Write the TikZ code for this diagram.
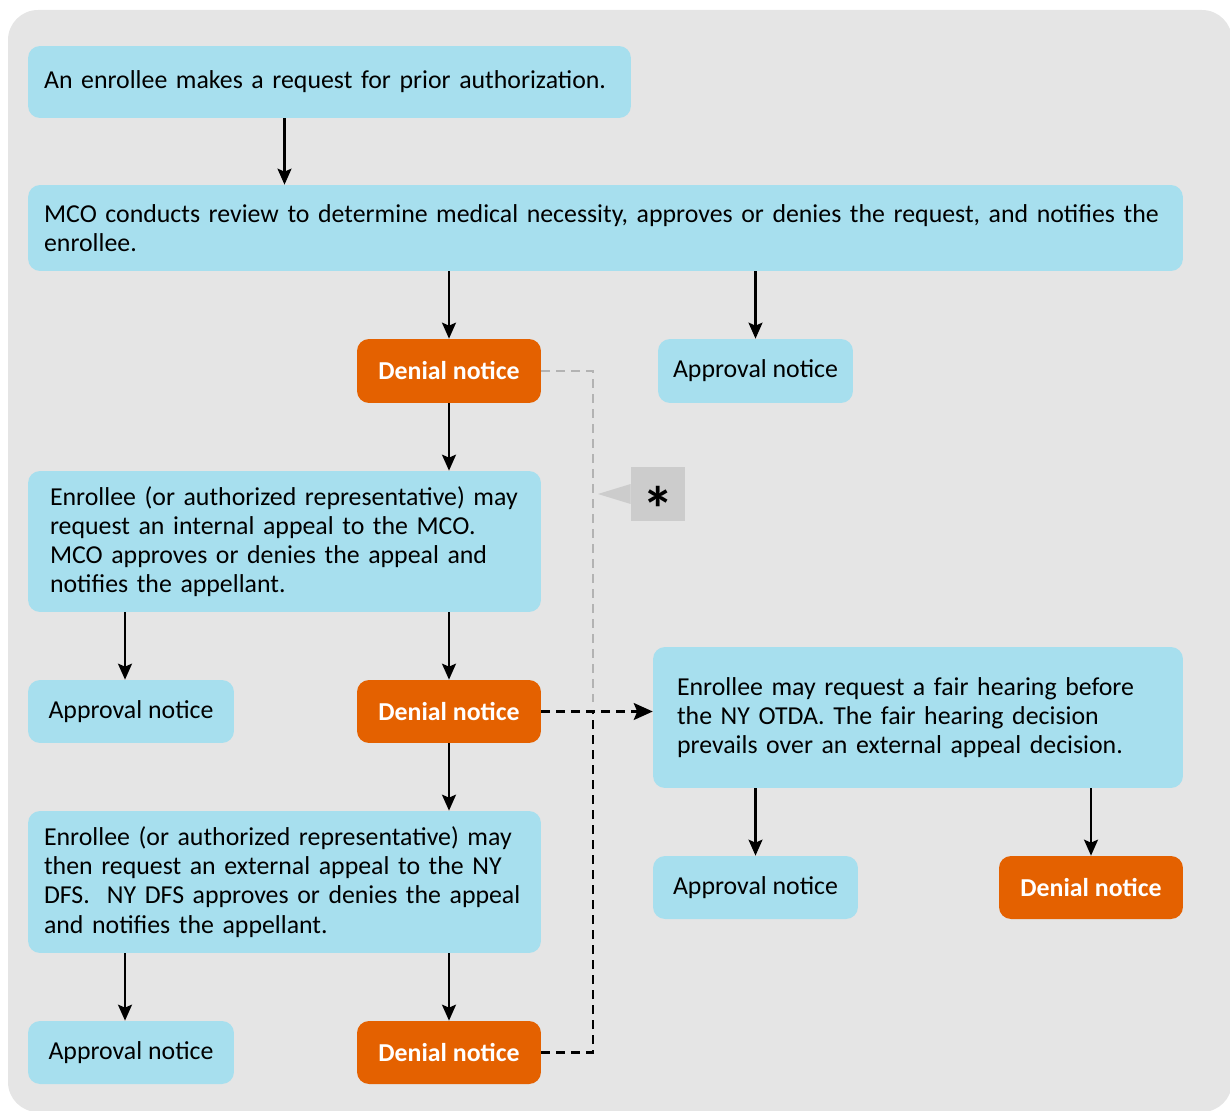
\documentclass[tikz,border=0pt]{standalone}
\usepackage{fontspec}
\setmainfont{Carlito}
\usetikzlibrary{arrows.meta,positioning}
\definecolor{panelgray}{HTML}{E5E5E5}
\definecolor{boxblue}{HTML}{A7DFEE}
\definecolor{denyorange}{HTML}{E46100}
\definecolor{notegray}{HTML}{CCCCCC}
\definecolor{dashgray}{HTML}{B3B3B3}
\begin{document}
\begin{tikzpicture}[x=0.02cm,y=-0.02cm,>=Stealth,
bluebox/.style={fill=boxblue,rounded corners=0.24cm,inner xsep=0.32cm,inner ysep=0pt,align=left,font=\fontsize{14.7pt}{16.6pt}\selectfont},
notice/.style={fill=boxblue,rounded corners=0.24cm,minimum width=4.12cm,minimum height=1.26cm,inner sep=0pt,align=center,font=\fontsize{14.7pt}{16.6pt}\selectfont},
denial/.style={notice,fill=denyorange,text=white,minimum width=3.68cm,font=\fontsize{14.7pt}{16.6pt}\selectfont\bfseries},
flow/.style={-{Stealth[length=3.2mm,width=2.8mm,inset=0.6mm]},line width=1.3pt},
link/.style={dash pattern=on 1.8mm off 1.2mm,line width=1.25pt},
graylink/.style={link,line width=1.1pt,draw=dashgray}]
\useasboundingbox (0,0) rectangle (1230,1111);
\fill[panelgray,rounded corners=0.6cm] (8,10) rectangle (1232,1112);

% first review
\node[bluebox,minimum width=12.06cm,minimum height=1.44cm,text width=11.42cm] (req) at (329.5,82) {An enrollee makes a request for prior authorization.};
\node[bluebox,minimum width=23.1cm,minimum height=1.72cm,text width=22.46cm] (review) at (605.5,228) {MCO conducts review to determine medical necessity, approves or denies the request, and notifies the\\enrollee.};
\node[denial,minimum height=1.28cm] (deny1) at (449,371) {Denial notice};
\node[notice,minimum width=3.9cm,minimum height=1.28cm] (appr1) at (755.5,371) {Approval notice};

% internal appeal
\node[bluebox,inner xsep=0.44cm,minimum width=10.26cm,minimum height=2.82cm,text width=9.38cm] (appeal) at (284.5,541.5) {Enrollee (or authorized representative) may\\request an internal appeal to the MCO.\\MCO approves or denies the appeal and\\notifies the appellant.};
\node[notice] (appr2) at (131,711.5) {Approval notice};
\node[denial] (deny2) at (449,711.5) {Denial notice};

% external appeal
\node[bluebox,minimum width=10.26cm,minimum height=2.84cm,text width=9.62cm] (external) at (284.5,882) {Enrollee (or authorized representative) may\\then request an external appeal to the NY\\DFS.\ \ NY DFS approves or denies the appeal\\and notifies the appellant.};
\node[notice] (appr3) at (131,1052.5) {Approval notice};
\node[denial] (deny3) at (449,1052.5) {Denial notice};

% fair hearing
\node[bluebox,inner xsep=0.48cm,minimum width=10.6cm,minimum height=2.82cm,text width=9.64cm] (hearing) at (918,717.5) {Enrollee may request a fair hearing before\\the NY OTDA. The fair hearing decision\\prevails over an external appeal decision.};
\node[notice,minimum width=4.1cm] (appr4) at (755.5,887.5) {Approval notice};
\node[denial] (deny4) at (1091,887.5) {Denial notice};

% note
\node[fill=notegray,minimum size=1.08cm,inner sep=0pt,font=\fontsize{36pt}{36pt}\selectfont\bfseries] (note) at (658,494) {\smash{\raisebox{-0.6em}{*}}};
\coordinate (tip) at (598,494);
\fill[notegray] ([yshift=0.2cm]note.west) -- (tip) -- ([yshift=-0.2cm]note.west) -- cycle;

\draw[flow] (req.south -| appeal.north) -- (review.north -| appeal.north);
\draw[flow] (review.south -| deny1.north) -- (deny1.north);
\draw[flow] (review.south -| appr1.north) -- (appr1.north);
\draw[flow] (deny1) -- (appeal.north -| deny1.south);
\draw[flow] ([xshift=-0.12cm]appr2.north |- appeal.south) -- ([xshift=-0.12cm]appr2.north);
\draw[flow] (appeal.south -| deny2.north) -- (deny2.north);
\draw[flow] (deny2) -- (external.north -| deny2.south);
\draw[flow] ([xshift=-0.12cm]appr3.north |- external.south) -- ([xshift=-0.12cm]appr3.north);
\draw[flow] (external.south -| deny3.north) -- (deny3.north);
\draw[flow] (hearing.south -| appr4.north) -- (appr4.north);
\draw[flow] (hearing.south -| deny4.north) -- (deny4.north);

% dashed links
\coordinate (jn) at (593,711.5);
\draw[graylink] (deny1.east) -| ([yshift=0.2cm]jn);
\draw[link,-{Stealth[length=3.8mm,width=3.4mm,inset=0.7mm]}] (deny2.east) -- (deny2.east -| hearing.west);
\draw[link] (deny3.east) -| (jn);
\end{tikzpicture}
\end{document}
